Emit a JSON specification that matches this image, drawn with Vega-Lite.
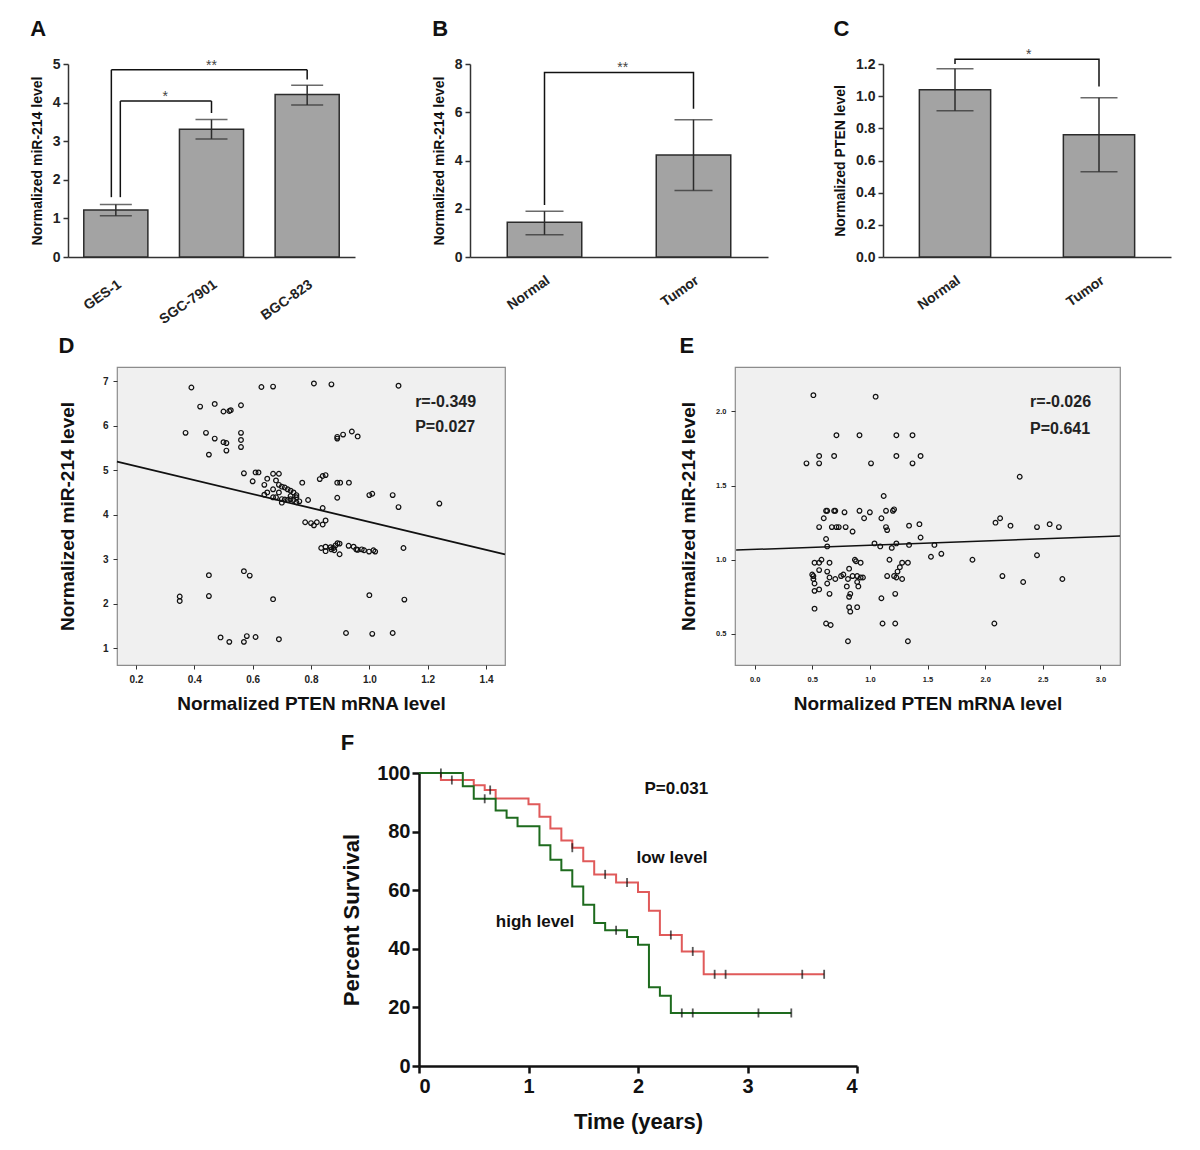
{
"$schema": "https://vega.github.io/schema/vega-lite/v6.json",
"background": "white",
"padding": {"left": 29, "top": 18, "right": 5, "bottom": 5},
"config": {
  "font": "Liberation Sans",
  "view": {"stroke": null},
  "axis": {"grid": false, "labelColor": "#222", "titleColor": "#111", "labelFontWeight": "bold", "titleFontWeight": "bold", "domainColor": "#333", "tickColor": "#333", "labelOverlap": false},
  "title": {"anchor": "start", "frame": "bounds", "fontSize": 22, "fontWeight": "bold", "color": "#111"}
},
"datasets": {
  "barsA": [{"cat": "GES-1", "mean": 1.22, "lo": 1.07, "hi": 1.36}, {"cat": "SGC-7901", "mean": 3.31, "lo": 3.06, "hi": 3.56}, {"cat": "BGC-823", "mean": 4.21, "lo": 3.94, "hi": 4.45}],
  "legsA": [{"cat": "GES-1", "lo": 1.55, "hi": 4.85, "leg": "L2"}, {"cat": "GES-1", "lo": 1.55, "hi": 4.04, "leg": "L1"}, {"cat": "BGC-823", "lo": 4.6, "hi": 4.85, "leg": "R"}, {"cat": "SGC-7901", "lo": 3.73, "hi": 4.04, "leg": "R"}],
  "spansA": [{"from": "GES-1", "to": "BGC-823", "lvl": 4.85, "br": "L2", "star": "**", "mid": "SGC-7901"}, {"from": "GES-1", "to": "SGC-7901", "lvl": 4.04, "br": "L1", "star": "*", "mid": "GES-1"}],
  "barsB": [{"cat": "Normal", "mean": 1.44, "lo": 0.92, "hi": 1.9}, {"cat": "Tumor", "mean": 4.23, "lo": 2.76, "hi": 5.69}],
  "brB": [{"cat": "Normal", "v": 2.16, "k": 1}, {"cat": "Normal", "v": 7.65, "k": 2}, {"cat": "Tumor", "v": 7.65, "k": 3}, {"cat": "Tumor", "v": 6.15, "k": 4}],
  "starB": [{"cat": "Normal", "v": 7.65, "star": "**"}],
  "barsC": [{"cat": "Normal", "mean": 1.04, "lo": 0.91, "hi": 1.17}, {"cat": "Tumor", "mean": 0.76, "lo": 0.53, "hi": 0.99}],
  "brC": [{"cat": "Normal", "v": 1.2, "k": 1}, {"cat": "Normal", "v": 1.23, "k": 2}, {"cat": "Tumor", "v": 1.23, "k": 3}, {"cat": "Tumor", "v": 1.06, "k": 4}],
  "starC": [{"cat": "Normal", "v": 1.23, "star": "*"}],
  "scD": [
    {"pten": 0.39, "mir": 6.86}, {"pten": 0.42, "mir": 6.43}, {"pten": 0.47, "mir": 6.49}, {"pten": 0.5, "mir": 6.32}, {"pten": 0.52, "mir": 6.33}, {"pten": 0.525, "mir": 6.35}, {"pten": 0.56, "mir": 6.46},
    {"pten": 0.37, "mir": 5.84}, {"pten": 0.44, "mir": 5.84}, {"pten": 0.47, "mir": 5.71}, {"pten": 0.5, "mir": 5.63}, {"pten": 0.51, "mir": 5.61}, {"pten": 0.51, "mir": 5.44}, {"pten": 0.45, "mir": 5.35},
    {"pten": 0.56, "mir": 5.84}, {"pten": 0.56, "mir": 5.68}, {"pten": 0.56, "mir": 5.52}, {"pten": 0.63, "mir": 6.87}, {"pten": 0.67, "mir": 6.88},
    {"pten": 0.57, "mir": 4.93}, {"pten": 0.61, "mir": 4.95}, {"pten": 0.62, "mir": 4.95}, {"pten": 0.6, "mir": 4.75},
    {"pten": 0.67, "mir": 4.92}, {"pten": 0.69, "mir": 4.92}, {"pten": 0.65, "mir": 4.81}, {"pten": 0.68, "mir": 4.77}, {"pten": 0.64, "mir": 4.67}, {"pten": 0.69, "mir": 4.67},
    {"pten": 0.7, "mir": 4.63}, {"pten": 0.71, "mir": 4.61}, {"pten": 0.72, "mir": 4.57}, {"pten": 0.73, "mir": 4.54}, {"pten": 0.74, "mir": 4.5}, {"pten": 0.75, "mir": 4.44}, {"pten": 0.75, "mir": 4.39}, {"pten": 0.76, "mir": 4.3},
    {"pten": 0.67, "mir": 4.57}, {"pten": 0.65, "mir": 4.5}, {"pten": 0.64, "mir": 4.45}, {"pten": 0.69, "mir": 4.5}, {"pten": 0.67, "mir": 4.39}, {"pten": 0.68, "mir": 4.39},
    {"pten": 0.7, "mir": 4.35}, {"pten": 0.71, "mir": 4.34}, {"pten": 0.73, "mir": 4.35}, {"pten": 0.74, "mir": 4.33}, {"pten": 0.75, "mir": 4.28}, {"pten": 0.7, "mir": 4.27}, {"pten": 0.72, "mir": 4.33}, {"pten": 0.73, "mir": 4.42},
    {"pten": 0.77, "mir": 4.72}, {"pten": 0.79, "mir": 4.33}, {"pten": 0.84, "mir": 4.15}, {"pten": 0.83, "mir": 4.8}, {"pten": 0.84, "mir": 4.87}, {"pten": 0.85, "mir": 4.89},
    {"pten": 0.89, "mir": 4.72}, {"pten": 0.9, "mir": 4.72}, {"pten": 0.93, "mir": 4.72}, {"pten": 0.89, "mir": 4.38},
    {"pten": 0.89, "mir": 5.71}, {"pten": 0.89, "mir": 5.75}, {"pten": 0.91, "mir": 5.8}, {"pten": 0.94, "mir": 5.87}, {"pten": 0.96, "mir": 5.76},
    {"pten": 1.0, "mir": 4.44}, {"pten": 1.01, "mir": 4.47}, {"pten": 1.08, "mir": 4.44}, {"pten": 1.1, "mir": 4.17}, {"pten": 1.24, "mir": 4.25},
    {"pten": 0.78, "mir": 3.83}, {"pten": 0.8, "mir": 3.81}, {"pten": 0.81, "mir": 3.76}, {"pten": 0.82, "mir": 3.83}, {"pten": 0.84, "mir": 3.78}, {"pten": 0.85, "mir": 3.87},
    {"pten": 0.835, "mir": 3.25}, {"pten": 0.85, "mir": 3.28}, {"pten": 0.85, "mir": 3.18}, {"pten": 0.867, "mir": 3.27}, {"pten": 0.877, "mir": 3.25}, {"pten": 0.884, "mir": 3.31},
    {"pten": 0.891, "mir": 3.36}, {"pten": 0.898, "mir": 3.35}, {"pten": 0.898, "mir": 3.11}, {"pten": 0.929, "mir": 3.3}, {"pten": 0.946, "mir": 3.28}, {"pten": 0.955, "mir": 3.22},
    {"pten": 0.974, "mir": 3.22}, {"pten": 0.982, "mir": 3.2}, {"pten": 0.999, "mir": 3.17}, {"pten": 1.014, "mir": 3.2}, {"pten": 1.02, "mir": 3.17}, {"pten": 1.117, "mir": 3.25},
    {"pten": 0.87, "mir": 3.22}, {"pten": 0.88, "mir": 3.2}, {"pten": 0.96, "mir": 3.21},
    {"pten": 0.45, "mir": 2.64}, {"pten": 0.45, "mir": 2.17}, {"pten": 0.35, "mir": 2.16}, {"pten": 0.35, "mir": 2.06}, {"pten": 0.57, "mir": 2.73}, {"pten": 0.59, "mir": 2.63},
    {"pten": 0.67, "mir": 2.1}, {"pten": 1.0, "mir": 2.19}, {"pten": 1.12, "mir": 2.09},
    {"pten": 0.49, "mir": 1.24}, {"pten": 0.52, "mir": 1.14}, {"pten": 0.57, "mir": 1.14}, {"pten": 0.58, "mir": 1.27}, {"pten": 0.61, "mir": 1.25}, {"pten": 0.69, "mir": 1.2},
    {"pten": 0.92, "mir": 1.34}, {"pten": 1.01, "mir": 1.32}, {"pten": 1.08, "mir": 1.34},
    {"pten": 0.81, "mir": 6.95}, {"pten": 0.87, "mir": 6.93}, {"pten": 1.1, "mir": 6.9}
  ],
  "lnD": [{"pten": 0.135, "mir": 5.19}, {"pten": 1.465, "mir": 3.11}],
  "txD": [{"pten": 1.157, "mir": 6.54, "label": "r=-0.349"}, {"pten": 1.157, "mir": 5.96, "label": "P=0.027"}],
  "scE": [
    {"pten": 0.51, "mir": 2.11}, {"pten": 1.05, "mir": 2.1},
    {"pten": 0.71, "mir": 1.84}, {"pten": 0.91, "mir": 1.84}, {"pten": 1.23, "mir": 1.84}, {"pten": 1.37, "mir": 1.84},
    {"pten": 0.56, "mir": 1.7}, {"pten": 0.69, "mir": 1.7}, {"pten": 1.23, "mir": 1.7}, {"pten": 1.44, "mir": 1.7},
    {"pten": 0.45, "mir": 1.65}, {"pten": 0.56, "mir": 1.65}, {"pten": 1.01, "mir": 1.65}, {"pten": 1.37, "mir": 1.65},
    {"pten": 2.3, "mir": 1.56}, {"pten": 1.12, "mir": 1.43},
    {"pten": 0.62, "mir": 1.33}, {"pten": 0.63, "mir": 1.33}, {"pten": 0.69, "mir": 1.33}, {"pten": 0.7, "mir": 1.33}, {"pten": 0.78, "mir": 1.32}, {"pten": 0.91, "mir": 1.33},
    {"pten": 1.0, "mir": 1.32}, {"pten": 1.14, "mir": 1.33}, {"pten": 1.2, "mir": 1.33}, {"pten": 1.21, "mir": 1.34},
    {"pten": 0.6, "mir": 1.28}, {"pten": 0.95, "mir": 1.28}, {"pten": 1.1, "mir": 1.28},
    {"pten": 0.56, "mir": 1.22}, {"pten": 0.67, "mir": 1.22}, {"pten": 0.71, "mir": 1.22}, {"pten": 0.73, "mir": 1.22}, {"pten": 0.79, "mir": 1.22},
    {"pten": 1.14, "mir": 1.22}, {"pten": 1.15, "mir": 1.2}, {"pten": 0.85, "mir": 1.19}, {"pten": 1.34, "mir": 1.23}, {"pten": 1.43, "mir": 1.24}, {"pten": 1.44, "mir": 1.15},
    {"pten": 0.62, "mir": 1.14}, {"pten": 0.63, "mir": 1.09}, {"pten": 1.04, "mir": 1.11}, {"pten": 1.09, "mir": 1.09}, {"pten": 1.19, "mir": 1.08}, {"pten": 1.23, "mir": 1.11},
    {"pten": 1.34, "mir": 1.1}, {"pten": 1.56, "mir": 1.1},
    {"pten": 2.09, "mir": 1.25}, {"pten": 2.13, "mir": 1.28}, {"pten": 2.22, "mir": 1.23}, {"pten": 2.45, "mir": 1.22}, {"pten": 2.56, "mir": 1.24}, {"pten": 2.64, "mir": 1.22},
    {"pten": 1.53, "mir": 1.02}, {"pten": 1.62, "mir": 1.04}, {"pten": 1.89, "mir": 1.0}, {"pten": 2.45, "mir": 1.03},
    {"pten": 0.52, "mir": 0.98}, {"pten": 0.56, "mir": 0.98}, {"pten": 0.58, "mir": 1.0}, {"pten": 0.65, "mir": 0.98},
    {"pten": 0.5, "mir": 0.9}, {"pten": 0.51, "mir": 0.89}, {"pten": 0.51, "mir": 0.87}, {"pten": 0.52, "mir": 0.84}, {"pten": 0.52, "mir": 0.79}, {"pten": 0.56, "mir": 0.8},
    {"pten": 0.56, "mir": 0.93}, {"pten": 0.63, "mir": 0.92}, {"pten": 0.65, "mir": 0.88}, {"pten": 0.63, "mir": 0.84}, {"pten": 0.65, "mir": 0.77}, {"pten": 0.52, "mir": 0.67},
    {"pten": 0.62, "mir": 0.57}, {"pten": 0.66, "mir": 0.56},
    {"pten": 0.7, "mir": 0.87}, {"pten": 0.75, "mir": 0.89}, {"pten": 0.77, "mir": 0.9}, {"pten": 0.81, "mir": 0.87}, {"pten": 0.82, "mir": 0.94}, {"pten": 0.8, "mir": 0.82},
    {"pten": 0.82, "mir": 0.75}, {"pten": 0.83, "mir": 0.77}, {"pten": 0.82, "mir": 0.68}, {"pten": 0.83, "mir": 0.65}, {"pten": 0.89, "mir": 0.68},
    {"pten": 0.87, "mir": 1.0}, {"pten": 0.88, "mir": 0.99}, {"pten": 0.92, "mir": 0.98}, {"pten": 0.85, "mir": 0.89}, {"pten": 0.89, "mir": 0.89}, {"pten": 0.92, "mir": 0.88},
    {"pten": 0.94, "mir": 0.88}, {"pten": 0.89, "mir": 0.85}, {"pten": 0.9, "mir": 0.82}, {"pten": 0.81, "mir": 0.45},
    {"pten": 1.17, "mir": 1.0}, {"pten": 1.15, "mir": 0.89}, {"pten": 1.21, "mir": 0.89}, {"pten": 1.23, "mir": 0.88}, {"pten": 1.24, "mir": 0.92}, {"pten": 1.26, "mir": 0.95},
    {"pten": 1.28, "mir": 0.98}, {"pten": 1.33, "mir": 0.98}, {"pten": 1.28, "mir": 0.87}, {"pten": 1.22, "mir": 0.77}, {"pten": 1.1, "mir": 0.74}, {"pten": 1.11, "mir": 0.57},
    {"pten": 1.22, "mir": 0.57}, {"pten": 1.33, "mir": 0.45},
    {"pten": 2.15, "mir": 0.89}, {"pten": 2.33, "mir": 0.85}, {"pten": 2.67, "mir": 0.87}, {"pten": 2.08, "mir": 0.57}
  ],
  "lnE": [{"pten": -0.16, "mir": 1.065}, {"pten": 3.17, "mir": 1.16}],
  "txE": [{"pten": 2.39, "mir": 2.064, "label": "r=-0.026"}, {"pten": 2.39, "mir": 1.883, "label": "P=0.641"}],
  "km": [
    {"group": "low level", "time": 0, "surv": 100}, {"group": "low level", "time": 0.2, "surv": 97.6}, {"group": "low level", "time": 0.5, "surv": 95.8},
    {"group": "low level", "time": 0.6, "surv": 94.2}, {"group": "low level", "time": 0.7, "surv": 91.3}, {"group": "low level", "time": 1.0, "surv": 89.3},
    {"group": "low level", "time": 1.1, "surv": 85.1}, {"group": "low level", "time": 1.2, "surv": 81.1}, {"group": "low level", "time": 1.3, "surv": 77.0},
    {"group": "low level", "time": 1.4, "surv": 74.5}, {"group": "low level", "time": 1.5, "surv": 69.9}, {"group": "low level", "time": 1.6, "surv": 65.4},
    {"group": "low level", "time": 1.8, "surv": 62.6}, {"group": "low level", "time": 2.0, "surv": 59.4}, {"group": "low level", "time": 2.1, "surv": 53.0},
    {"group": "low level", "time": 2.2, "surv": 44.7}, {"group": "low level", "time": 2.4, "surv": 39.1}, {"group": "low level", "time": 2.6, "surv": 31.3},
    {"group": "low level", "time": 3.7, "surv": 31.3},
    {"group": "high level", "time": 0, "surv": 100}, {"group": "high level", "time": 0.4, "surv": 95.5}, {"group": "high level", "time": 0.5, "surv": 91.2},
    {"group": "high level", "time": 0.7, "surv": 87.2}, {"group": "high level", "time": 0.8, "surv": 84.7}, {"group": "high level", "time": 0.9, "surv": 81.8},
    {"group": "high level", "time": 1.1, "surv": 75.3}, {"group": "high level", "time": 1.2, "surv": 70.4}, {"group": "high level", "time": 1.3, "surv": 66.8},
    {"group": "high level", "time": 1.4, "surv": 61.3}, {"group": "high level", "time": 1.5, "surv": 55.0}, {"group": "high level", "time": 1.6, "surv": 48.8},
    {"group": "high level", "time": 1.7, "surv": 46.3}, {"group": "high level", "time": 1.9, "surv": 44.0}, {"group": "high level", "time": 2.0, "surv": 41.4},
    {"group": "high level", "time": 2.1, "surv": 26.9}, {"group": "high level", "time": 2.2, "surv": 24.0}, {"group": "high level", "time": 2.3, "surv": 18.1},
    {"group": "high level", "time": 3.4, "surv": 18.1}
  ],
  "cens": [
    {"group": "low level", "time": 0.3, "surv": 97.6}, {"group": "low level", "time": 0.65, "surv": 94.2}, {"group": "low level", "time": 1.4, "surv": 74.5},
    {"group": "low level", "time": 1.7, "surv": 65.4}, {"group": "low level", "time": 1.9, "surv": 62.6}, {"group": "low level", "time": 2.3, "surv": 44.7},
    {"group": "low level", "time": 2.5, "surv": 39.1}, {"group": "low level", "time": 2.7, "surv": 31.3}, {"group": "low level", "time": 2.8, "surv": 31.3},
    {"group": "low level", "time": 3.5, "surv": 31.3}, {"group": "low level", "time": 3.7, "surv": 31.3},
    {"group": "high level", "time": 0.2, "surv": 100}, {"group": "high level", "time": 0.6, "surv": 91.2}, {"group": "high level", "time": 1.8, "surv": 46.3},
    {"group": "high level", "time": 2.4, "surv": 18.1}, {"group": "high level", "time": 2.5, "surv": 18.1}, {"group": "high level", "time": 3.1, "surv": 18.1},
    {"group": "high level", "time": 3.4, "surv": 18.1}
  ],
  "txF": [{"time": 2.35, "surv": 94.4, "label": "P=0.031"}, {"time": 2.31, "surv": 71.1, "label": "low level"}, {"time": 1.06, "surv": 49.2, "label": "high level"}],
  "empty": []
},
"spacing": 7,
"vconcat": [
  {
    "hconcat": [
      {"width": 1, "height": 5, "data": {"name": "empty"}, "mark": "point"},
      {
        "hconcat": [
          {
            "title": {"text": "A", "offset": 16},
            "width": 287, "height": 193,
            "layer": [
              {"data": {"name": "barsA"}, "mark": {"type": "bar", "fill": "#a3a3a3", "stroke": "#2b2b2b", "strokeWidth": 1.5},
               "encoding": {
                 "x": {"field": "cat", "type": "nominal", "title": null, "scale": {"domain": ["GES-1", "SGC-7901", "BGC-823"], "paddingInner": 0.33, "paddingOuter": 0.165}, "axis": {"labelAngle": -35, "labelAlign": "right", "labelBaseline": "top", "labelFontSize": 14, "labelPadding": 20, "ticks": false, "domainWidth": 1.5}},
                 "y": {"field": "mean", "type": "quantitative", "title": "Normalized miR-214 level", "scale": {"domain": [0, 5]}, "axis": {"values": [0, 1, 2, 3, 4, 5], "format": "d", "tickSize": 5, "tickWidth": 1.5, "domainWidth": 1.5, "labelFontSize": 14, "titleFontSize": 14, "titlePadding": 8, "labelPadding": 3, "labelOverlap": false}}
               }},
              {"data": {"name": "barsA"}, "mark": {"type": "rule", "color": "#2b2b2b", "strokeWidth": 1.5},
               "encoding": {"x": {"field": "cat", "type": "nominal", "title": null, "scale": {"domain": ["GES-1", "SGC-7901", "BGC-823"]}, "axis": {"labelAngle": -35, "labelAlign": "right", "labelBaseline": "top", "labelFontSize": 14, "labelPadding": 20, "ticks": false, "domainWidth": 1.5}}, "y": {"field": "lo", "type": "quantitative", "title": "Normalized miR-214 level", "scale": {"domain": [0, 5]}, "axis": {"values": [0, 1, 2, 3, 4, 5], "format": "d", "tickSize": 5, "tickWidth": 1.5, "domainWidth": 1.5, "labelFontSize": 14, "titleFontSize": 14, "titlePadding": 8, "labelPadding": 3, "labelOverlap": false}}, "y2": {"field": "hi"}}},
              {"data": {"name": "barsA"}, "mark": {"type": "tick", "orient": "horizontal", "size": 32, "thickness": 1.5, "color": "#2b2b2b"},
               "encoding": {"x": {"field": "cat", "type": "nominal", "title": null, "scale": {"domain": ["GES-1", "SGC-7901", "BGC-823"]}, "axis": {"labelAngle": -35, "labelAlign": "right", "labelBaseline": "top", "labelFontSize": 14, "labelPadding": 20, "ticks": false, "domainWidth": 1.5}}, "y": {"field": "lo", "type": "quantitative", "title": "Normalized miR-214 level", "scale": {"domain": [0, 5]}, "axis": {"values": [0, 1, 2, 3, 4, 5], "format": "d", "tickSize": 5, "tickWidth": 1.5, "domainWidth": 1.5, "labelFontSize": 14, "titleFontSize": 14, "titlePadding": 8, "labelPadding": 3, "labelOverlap": false}}}},
              {"data": {"name": "barsA"}, "mark": {"type": "tick", "orient": "horizontal", "size": 32, "thickness": 1.5, "color": "#2b2b2b"},
               "encoding": {"x": {"field": "cat", "type": "nominal", "title": null, "scale": {"domain": ["GES-1", "SGC-7901", "BGC-823"]}, "axis": {"labelAngle": -35, "labelAlign": "right", "labelBaseline": "top", "labelFontSize": 14, "labelPadding": 20, "ticks": false, "domainWidth": 1.5}}, "y": {"field": "hi", "type": "quantitative", "title": "Normalized miR-214 level", "scale": {"domain": [0, 5]}, "axis": {"values": [0, 1, 2, 3, 4, 5], "format": "d", "tickSize": 5, "tickWidth": 1.5, "domainWidth": 1.5, "labelFontSize": 14, "titleFontSize": 14, "titlePadding": 8, "labelPadding": 3, "labelOverlap": false}}}},
              {"data": {"name": "legsA"}, "transform": [{"filter": "datum.leg == 'L2'"}], "mark": {"type": "rule", "color": "#111", "strokeWidth": 1.5},
               "encoding": {"x": {"field": "cat", "type": "nominal", "title": null, "bandPosition": 0.43, "scale": {"domain": ["GES-1", "SGC-7901", "BGC-823"]}, "axis": {"labelAngle": -35, "labelAlign": "right", "labelBaseline": "top", "labelFontSize": 14, "labelPadding": 20, "ticks": false, "domainWidth": 1.5}}, "y": {"field": "lo", "type": "quantitative", "title": "Normalized miR-214 level", "scale": {"domain": [0, 5]}, "axis": {"values": [0, 1, 2, 3, 4, 5], "format": "d", "tickSize": 5, "tickWidth": 1.5, "domainWidth": 1.5, "labelFontSize": 14, "titleFontSize": 14, "titlePadding": 8, "labelPadding": 3, "labelOverlap": false}}, "y2": {"field": "hi"}}},
              {"data": {"name": "legsA"}, "transform": [{"filter": "datum.leg == 'L1'"}], "mark": {"type": "rule", "color": "#111", "strokeWidth": 1.5},
               "encoding": {"x": {"field": "cat", "type": "nominal", "title": null, "bandPosition": 0.57, "scale": {"domain": ["GES-1", "SGC-7901", "BGC-823"]}, "axis": {"labelAngle": -35, "labelAlign": "right", "labelBaseline": "top", "labelFontSize": 14, "labelPadding": 20, "ticks": false, "domainWidth": 1.5}}, "y": {"field": "lo", "type": "quantitative", "title": "Normalized miR-214 level", "scale": {"domain": [0, 5]}, "axis": {"values": [0, 1, 2, 3, 4, 5], "format": "d", "tickSize": 5, "tickWidth": 1.5, "domainWidth": 1.5, "labelFontSize": 14, "titleFontSize": 14, "titlePadding": 8, "labelPadding": 3, "labelOverlap": false}}, "y2": {"field": "hi"}}},
              {"data": {"name": "legsA"}, "transform": [{"filter": "datum.leg == 'R'"}], "mark": {"type": "rule", "color": "#111", "strokeWidth": 1.5},
               "encoding": {"x": {"field": "cat", "type": "nominal", "title": null, "bandPosition": 0.5, "scale": {"domain": ["GES-1", "SGC-7901", "BGC-823"]}, "axis": {"labelAngle": -35, "labelAlign": "right", "labelBaseline": "top", "labelFontSize": 14, "labelPadding": 20, "ticks": false, "domainWidth": 1.5}}, "y": {"field": "lo", "type": "quantitative", "title": "Normalized miR-214 level", "scale": {"domain": [0, 5]}, "axis": {"values": [0, 1, 2, 3, 4, 5], "format": "d", "tickSize": 5, "tickWidth": 1.5, "domainWidth": 1.5, "labelFontSize": 14, "titleFontSize": 14, "titlePadding": 8, "labelPadding": 3, "labelOverlap": false}}, "y2": {"field": "hi"}}},
              {"data": {"name": "spansA"}, "transform": [{"filter": "datum.br == 'L2'"}], "mark": {"type": "rule", "color": "#111", "strokeWidth": 1.5},
               "encoding": {"x": {"field": "from", "type": "nominal", "title": null, "bandPosition": 0.43, "scale": {"domain": ["GES-1", "SGC-7901", "BGC-823"]}, "axis": {"labelAngle": -35, "labelAlign": "right", "labelBaseline": "top", "labelFontSize": 14, "labelPadding": 20, "ticks": false, "domainWidth": 1.5}}, "x2": {"field": "to", "bandPosition": 0.5}, "y": {"field": "lvl", "type": "quantitative", "title": "Normalized miR-214 level", "scale": {"domain": [0, 5]}, "axis": {"values": [0, 1, 2, 3, 4, 5], "format": "d", "tickSize": 5, "tickWidth": 1.5, "domainWidth": 1.5, "labelFontSize": 14, "titleFontSize": 14, "titlePadding": 8, "labelPadding": 3, "labelOverlap": false}}}},
              {"data": {"name": "spansA"}, "transform": [{"filter": "datum.br == 'L1'"}], "mark": {"type": "rule", "color": "#111", "strokeWidth": 1.5},
               "encoding": {"x": {"field": "from", "type": "nominal", "title": null, "bandPosition": 0.57, "scale": {"domain": ["GES-1", "SGC-7901", "BGC-823"]}, "axis": {"labelAngle": -35, "labelAlign": "right", "labelBaseline": "top", "labelFontSize": 14, "labelPadding": 20, "ticks": false, "domainWidth": 1.5}}, "x2": {"field": "to", "bandPosition": 0.5}, "y": {"field": "lvl", "type": "quantitative", "title": "Normalized miR-214 level", "scale": {"domain": [0, 5]}, "axis": {"values": [0, 1, 2, 3, 4, 5], "format": "d", "tickSize": 5, "tickWidth": 1.5, "domainWidth": 1.5, "labelFontSize": 14, "titleFontSize": 14, "titlePadding": 8, "labelPadding": 3, "labelOverlap": false}}}},
              {"data": {"name": "spansA"}, "transform": [{"filter": "datum.br == 'L2'"}], "mark": {"type": "text", "fontSize": 14, "color": "#444", "baseline": "alphabetic", "align": "center"},
               "encoding": {"x": {"field": "mid", "type": "nominal", "title": null, "bandPosition": 0.5, "scale": {"domain": ["GES-1", "SGC-7901", "BGC-823"]}, "axis": {"labelAngle": -35, "labelAlign": "right", "labelBaseline": "top", "labelFontSize": 14, "labelPadding": 20, "ticks": false, "domainWidth": 1.5}}, "y": {"field": "lvl", "type": "quantitative", "title": "Normalized miR-214 level", "scale": {"domain": [0, 5]}, "axis": {"values": [0, 1, 2, 3, 4, 5], "format": "d", "tickSize": 5, "tickWidth": 1.5, "domainWidth": 1.5, "labelFontSize": 14, "titleFontSize": 14, "titlePadding": 8, "labelPadding": 3, "labelOverlap": false}}, "text": {"field": "star"}}},
              {"data": {"name": "spansA"}, "transform": [{"filter": "datum.br == 'L1'"}], "mark": {"type": "text", "fontSize": 14, "color": "#444", "baseline": "alphabetic", "align": "center"},
               "encoding": {"x": {"field": "mid", "type": "nominal", "title": null, "bandPosition": 1.27, "scale": {"domain": ["GES-1", "SGC-7901", "BGC-823"]}, "axis": {"labelAngle": -35, "labelAlign": "right", "labelBaseline": "top", "labelFontSize": 14, "labelPadding": 20, "ticks": false, "domainWidth": 1.5}}, "y": {"field": "lvl", "type": "quantitative", "title": "Normalized miR-214 level", "scale": {"domain": [0, 5]}, "axis": {"values": [0, 1, 2, 3, 4, 5], "format": "d", "tickSize": 5, "tickWidth": 1.5, "domainWidth": 1.5, "labelFontSize": 14, "titleFontSize": 14, "titlePadding": 8, "labelPadding": 3, "labelOverlap": false}}, "text": {"field": "star"}}}
            ]
          },
          {
            "title": {"text": "B", "offset": 16},
            "width": 298, "height": 193,
            "layer": [
              {"data": {"name": "barsB"}, "mark": {"type": "bar", "fill": "#a3a3a3", "stroke": "#2b2b2b", "strokeWidth": 1.5},
               "encoding": {
                 "x": {"field": "cat", "type": "nominal", "title": null, "scale": {"domain": ["Normal", "Tumor"], "paddingInner": 0.5, "paddingOuter": 0.25}, "axis": {"labelAngle": -35, "labelAlign": "right", "labelBaseline": "top", "labelFontSize": 14, "labelPadding": 16, "ticks": false, "domainWidth": 1.5}},
                 "y": {"field": "mean", "type": "quantitative", "title": "Normalized miR-214 level", "scale": {"domain": [0, 8]}, "axis": {"values": [0, 2, 4, 6, 8], "format": "d", "tickSize": 5, "tickWidth": 1.5, "domainWidth": 1.5, "labelFontSize": 14, "titleFontSize": 14, "titlePadding": 8, "labelPadding": 3, "labelOverlap": false}}
               }},
              {"data": {"name": "barsB"}, "mark": {"type": "rule", "color": "#2b2b2b", "strokeWidth": 1.5},
               "encoding": {"x": {"field": "cat", "type": "nominal", "title": null, "scale": {"domain": ["Normal", "Tumor"]}, "axis": {"labelAngle": -35, "labelAlign": "right", "labelBaseline": "top", "labelFontSize": 14, "labelPadding": 16, "ticks": false, "domainWidth": 1.5}}, "y": {"field": "lo", "type": "quantitative", "title": "Normalized miR-214 level", "scale": {"domain": [0, 8]}, "axis": {"values": [0, 2, 4, 6, 8], "format": "d", "tickSize": 5, "tickWidth": 1.5, "domainWidth": 1.5, "labelFontSize": 14, "titleFontSize": 14, "titlePadding": 8, "labelPadding": 3, "labelOverlap": false}}, "y2": {"field": "hi"}}},
              {"data": {"name": "barsB"}, "mark": {"type": "tick", "orient": "horizontal", "size": 38, "thickness": 1.5, "color": "#2b2b2b"},
               "encoding": {"x": {"field": "cat", "type": "nominal", "title": null, "scale": {"domain": ["Normal", "Tumor"]}, "axis": {"labelAngle": -35, "labelAlign": "right", "labelBaseline": "top", "labelFontSize": 14, "labelPadding": 16, "ticks": false, "domainWidth": 1.5}}, "y": {"field": "lo", "type": "quantitative", "title": "Normalized miR-214 level", "scale": {"domain": [0, 8]}, "axis": {"values": [0, 2, 4, 6, 8], "format": "d", "tickSize": 5, "tickWidth": 1.5, "domainWidth": 1.5, "labelFontSize": 14, "titleFontSize": 14, "titlePadding": 8, "labelPadding": 3, "labelOverlap": false}}}},
              {"data": {"name": "barsB"}, "mark": {"type": "tick", "orient": "horizontal", "size": 38, "thickness": 1.5, "color": "#2b2b2b"},
               "encoding": {"x": {"field": "cat", "type": "nominal", "title": null, "scale": {"domain": ["Normal", "Tumor"]}, "axis": {"labelAngle": -35, "labelAlign": "right", "labelBaseline": "top", "labelFontSize": 14, "labelPadding": 16, "ticks": false, "domainWidth": 1.5}}, "y": {"field": "hi", "type": "quantitative", "title": "Normalized miR-214 level", "scale": {"domain": [0, 8]}, "axis": {"values": [0, 2, 4, 6, 8], "format": "d", "tickSize": 5, "tickWidth": 1.5, "domainWidth": 1.5, "labelFontSize": 14, "titleFontSize": 14, "titlePadding": 8, "labelPadding": 3, "labelOverlap": false}}}},
              {"data": {"name": "brB"}, "mark": {"type": "line", "color": "#111", "strokeWidth": 1.5},
               "encoding": {"x": {"field": "cat", "type": "nominal", "title": null, "scale": {"domain": ["Normal", "Tumor"]}, "axis": {"labelAngle": -35, "labelAlign": "right", "labelBaseline": "top", "labelFontSize": 14, "labelPadding": 16, "ticks": false, "domainWidth": 1.5}}, "y": {"field": "v", "type": "quantitative", "title": "Normalized miR-214 level", "scale": {"domain": [0, 8]}, "axis": {"values": [0, 2, 4, 6, 8], "format": "d", "tickSize": 5, "tickWidth": 1.5, "domainWidth": 1.5, "labelFontSize": 14, "titleFontSize": 14, "titlePadding": 8, "labelPadding": 3, "labelOverlap": false}}, "order": {"field": "k"}}},
              {"data": {"name": "starB"}, "mark": {"type": "text", "fontSize": 14, "color": "#444", "baseline": "alphabetic", "align": "center"},
               "encoding": {"x": {"field": "cat", "type": "nominal", "title": null, "bandPosition": 1.55, "scale": {"domain": ["Normal", "Tumor"]}, "axis": {"labelAngle": -35, "labelAlign": "right", "labelBaseline": "top", "labelFontSize": 14, "labelPadding": 16, "ticks": false, "domainWidth": 1.5}}, "y": {"field": "v", "type": "quantitative", "title": "Normalized miR-214 level", "scale": {"domain": [0, 8]}, "axis": {"values": [0, 2, 4, 6, 8], "format": "d", "tickSize": 5, "tickWidth": 1.5, "domainWidth": 1.5, "labelFontSize": 14, "titleFontSize": 14, "titlePadding": 8, "labelPadding": 3, "labelOverlap": false}}, "text": {"field": "star"}}}
            ]
          },
          {
            "title": {"text": "C", "offset": 7},
            "width": 288, "height": 193,
            "layer": [
              {"data": {"name": "barsC"}, "mark": {"type": "bar", "fill": "#a3a3a3", "stroke": "#2b2b2b", "strokeWidth": 1.5},
               "encoding": {
                 "x": {"field": "cat", "type": "nominal", "title": null, "scale": {"domain": ["Normal", "Tumor"], "paddingInner": 0.505, "paddingOuter": 0.2525}, "axis": {"labelAngle": -35, "labelAlign": "right", "labelBaseline": "top", "labelFontSize": 14, "labelPadding": 16, "ticks": false, "domainWidth": 1.5}},
                 "y": {"field": "mean", "type": "quantitative", "title": "Normalized PTEN level", "scale": {"domain": [0, 1.2]}, "axis": {"values": [0, 0.2, 0.4, 0.6, 0.8, 1.0, 1.2], "format": ".1f", "tickSize": 5, "tickWidth": 1.5, "domainWidth": 1.5, "labelFontSize": 14, "titleFontSize": 14, "titlePadding": 8, "labelPadding": 3, "labelOverlap": false}}
               }},
              {"data": {"name": "barsC"}, "mark": {"type": "rule", "color": "#2b2b2b", "strokeWidth": 1.5},
               "encoding": {"x": {"field": "cat", "type": "nominal", "title": null, "scale": {"domain": ["Normal", "Tumor"]}, "axis": {"labelAngle": -35, "labelAlign": "right", "labelBaseline": "top", "labelFontSize": 14, "labelPadding": 16, "ticks": false, "domainWidth": 1.5}}, "y": {"field": "lo", "type": "quantitative", "title": "Normalized PTEN level", "scale": {"domain": [0, 1.2]}, "axis": {"values": [0, 0.2, 0.4, 0.6, 0.8, 1.0, 1.2], "format": ".1f", "tickSize": 5, "tickWidth": 1.5, "domainWidth": 1.5, "labelFontSize": 14, "titleFontSize": 14, "titlePadding": 8, "labelPadding": 3, "labelOverlap": false}}, "y2": {"field": "hi"}}},
              {"data": {"name": "barsC"}, "mark": {"type": "tick", "orient": "horizontal", "size": 37, "thickness": 1.5, "color": "#2b2b2b"},
               "encoding": {"x": {"field": "cat", "type": "nominal", "title": null, "scale": {"domain": ["Normal", "Tumor"]}, "axis": {"labelAngle": -35, "labelAlign": "right", "labelBaseline": "top", "labelFontSize": 14, "labelPadding": 16, "ticks": false, "domainWidth": 1.5}}, "y": {"field": "lo", "type": "quantitative", "title": "Normalized PTEN level", "scale": {"domain": [0, 1.2]}, "axis": {"values": [0, 0.2, 0.4, 0.6, 0.8, 1.0, 1.2], "format": ".1f", "tickSize": 5, "tickWidth": 1.5, "domainWidth": 1.5, "labelFontSize": 14, "titleFontSize": 14, "titlePadding": 8, "labelPadding": 3, "labelOverlap": false}}}},
              {"data": {"name": "barsC"}, "mark": {"type": "tick", "orient": "horizontal", "size": 37, "thickness": 1.5, "color": "#2b2b2b"},
               "encoding": {"x": {"field": "cat", "type": "nominal", "title": null, "scale": {"domain": ["Normal", "Tumor"]}, "axis": {"labelAngle": -35, "labelAlign": "right", "labelBaseline": "top", "labelFontSize": 14, "labelPadding": 16, "ticks": false, "domainWidth": 1.5}}, "y": {"field": "hi", "type": "quantitative", "title": "Normalized PTEN level", "scale": {"domain": [0, 1.2]}, "axis": {"values": [0, 0.2, 0.4, 0.6, 0.8, 1.0, 1.2], "format": ".1f", "tickSize": 5, "tickWidth": 1.5, "domainWidth": 1.5, "labelFontSize": 14, "titleFontSize": 14, "titlePadding": 8, "labelPadding": 3, "labelOverlap": false}}}},
              {"data": {"name": "brC"}, "mark": {"type": "line", "color": "#111", "strokeWidth": 1.5},
               "encoding": {"x": {"field": "cat", "type": "nominal", "title": null, "scale": {"domain": ["Normal", "Tumor"]}, "axis": {"labelAngle": -35, "labelAlign": "right", "labelBaseline": "top", "labelFontSize": 14, "labelPadding": 16, "ticks": false, "domainWidth": 1.5}}, "y": {"field": "v", "type": "quantitative", "title": "Normalized PTEN level", "scale": {"domain": [0, 1.2]}, "axis": {"values": [0, 0.2, 0.4, 0.6, 0.8, 1.0, 1.2], "format": ".1f", "tickSize": 5, "tickWidth": 1.5, "domainWidth": 1.5, "labelFontSize": 14, "titleFontSize": 14, "titlePadding": 8, "labelPadding": 3, "labelOverlap": false}}, "order": {"field": "k"}}},
              {"data": {"name": "starC"}, "mark": {"type": "text", "fontSize": 14, "color": "#444", "baseline": "alphabetic", "align": "center"},
               "encoding": {"x": {"field": "cat", "type": "nominal", "title": null, "bandPosition": 1.535, "scale": {"domain": ["Normal", "Tumor"]}, "axis": {"labelAngle": -35, "labelAlign": "right", "labelBaseline": "top", "labelFontSize": 14, "labelPadding": 16, "ticks": false, "domainWidth": 1.5}}, "y": {"field": "v", "type": "quantitative", "title": "Normalized PTEN level", "scale": {"domain": [0, 1.2]}, "axis": {"values": [0, 0.2, 0.4, 0.6, 0.8, 1.0, 1.2], "format": ".1f", "tickSize": 5, "tickWidth": 1.5, "domainWidth": 1.5, "labelFontSize": 14, "titleFontSize": 14, "titlePadding": 8, "labelPadding": 3, "labelOverlap": false}}, "text": {"field": "star"}}}
            ]
          }
        ],
        "spacing": 115,
        "bounds": "flush"
      }
    ],
    "spacing": 0
  },
  {
    "spacing": 17,
    "vconcat": [
      {
        "hconcat": [
          {"width": 28, "height": 5, "data": {"name": "empty"}, "mark": "point"},
          {
            "hconcat": [
              {
                "title": {"text": "D", "offset": 9},
                "width": 388, "height": 298,
                "view": {"fill": "#f0f0f0", "stroke": "#8c8c8c", "strokeWidth": 1.2},
                "layer": [
                  {"data": {"name": "scD"}, "mark": {"type": "point", "filled": false, "stroke": "#111", "strokeWidth": 1.2, "size": 22, "opacity": 1},
                   "encoding": {
                     "x": {"field": "pten", "type": "quantitative", "title": "Normalized PTEN mRNA level", "scale": {"domain": [0.135, 1.465], "nice": false, "zero": false}, "axis": {"values": [0.2, 0.4, 0.6, 0.8, 1.0, 1.2, 1.4], "format": ".1f", "labelFontSize": 10, "titleFontSize": 19, "tickSize": 4, "labelPadding": 5, "titlePadding": 10, "domain": false}},
                     "y": {"field": "mir", "type": "quantitative", "title": "Normalized miR-214 level", "scale": {"domain": [0.62, 7.32], "nice": false, "zero": false}, "axis": {"values": [1, 2, 3, 4, 5, 6, 7], "format": "d", "labelFontSize": 10, "titleFontSize": 19, "tickSize": 4, "labelPadding": 5, "titlePadding": 25, "domain": false}}
                   }},
                  {"data": {"name": "lnD"}, "mark": {"type": "line", "color": "#111", "strokeWidth": 1.8},
                   "encoding": {"x": {"field": "pten", "type": "quantitative", "title": "Normalized PTEN mRNA level", "scale": {"domain": [0.135, 1.465], "nice": false, "zero": false}}, "y": {"field": "mir", "type": "quantitative", "title": "Normalized miR-214 level", "scale": {"domain": [0.62, 7.32], "nice": false, "zero": false}}}},
                  {"data": {"name": "txD"}, "mark": {"type": "text", "align": "left", "baseline": "middle", "fontSize": 16, "fontWeight": "bold", "color": "#222"},
                   "encoding": {"x": {"field": "pten", "type": "quantitative", "title": "Normalized PTEN mRNA level", "scale": {"domain": [0.135, 1.465], "nice": false, "zero": false}}, "y": {"field": "mir", "type": "quantitative", "title": "Normalized miR-214 level", "scale": {"domain": [0.62, 7.32], "nice": false, "zero": false}}, "text": {"field": "label"}}}
                ]
              },
              {
                "title": {"text": "E", "offset": 9},
                "width": 385, "height": 298,
                "view": {"fill": "#f0f0f0", "stroke": "#8c8c8c", "strokeWidth": 1.2},
                "layer": [
                  {"data": {"name": "scE"}, "mark": {"type": "point", "filled": false, "stroke": "#111", "strokeWidth": 1.2, "size": 22, "opacity": 1},
                   "encoding": {
                     "x": {"field": "pten", "type": "quantitative", "title": "Normalized PTEN mRNA level", "scale": {"domain": [-0.17, 3.17], "nice": false, "zero": false}, "axis": {"values": [0, 0.5, 1.0, 1.5, 2.0, 2.5, 3.0], "format": ".1f", "labelFontSize": 7.5, "titleFontSize": 19, "tickSize": 4, "labelPadding": 6, "titlePadding": 12, "domain": false}},
                     "y": {"field": "mir", "type": "quantitative", "title": "Normalized miR-214 level", "scale": {"domain": [0.29, 2.3], "nice": false, "zero": false}, "axis": {"values": [0.5, 1.0, 1.5, 2.0], "format": ".1f", "labelFontSize": 7.5, "titleFontSize": 19, "tickSize": 4, "labelPadding": 5, "titlePadding": 17, "domain": false}}
                   }},
                  {"data": {"name": "lnE"}, "mark": {"type": "line", "color": "#111", "strokeWidth": 1.5},
                   "encoding": {"x": {"field": "pten", "type": "quantitative", "title": "Normalized PTEN mRNA level", "scale": {"domain": [-0.17, 3.17], "nice": false, "zero": false}}, "y": {"field": "mir", "type": "quantitative", "title": "Normalized miR-214 level", "scale": {"domain": [0.29, 2.3], "nice": false, "zero": false}}}},
                  {"data": {"name": "txE"}, "mark": {"type": "text", "align": "left", "baseline": "middle", "fontSize": 16, "fontWeight": "bold", "color": "#222"},
                   "encoding": {"x": {"field": "pten", "type": "quantitative", "title": "Normalized PTEN mRNA level", "scale": {"domain": [-0.17, 3.17], "nice": false, "zero": false}}, "y": {"field": "mir", "type": "quantitative", "title": "Normalized miR-214 level", "scale": {"domain": [0.29, 2.3], "nice": false, "zero": false}}, "text": {"field": "label"}}}
                ]
              }
            ],
            "spacing": 230,
            "bounds": "flush"
          }
        ],
        "spacing": 0
      },
      {
        "hconcat": [
          {"width": 311, "height": 5, "data": {"name": "empty"}, "mark": "point"},
          {
            "title": {"text": "F", "offset": 8},
            "width": 438, "height": 293,
            "layer": [
              {"data": {"name": "km"}, "transform": [{"filter": "datum.group == 'low level'"}], "mark": {"type": "line", "interpolate": "step-after", "color": "#e05a5a", "strokeWidth": 2},
               "encoding": {
                 "x": {"field": "time", "type": "quantitative", "title": "Time (years)", "scale": {"domain": [0, 4], "nice": false}, "axis": {"values": [0, 1, 2, 3, 4], "format": "d", "tickSize": 7, "tickWidth": 2.5, "domainWidth": 2.5, "domainColor": "#111", "tickColor": "#111", "labelColor": "#111", "labelFontSize": 20, "labelPadding": 3, "titleFontSize": 22, "titlePadding": 15}},
                 "y": {"field": "surv", "type": "quantitative", "title": "Percent Survival", "scale": {"domain": [0, 100]}, "axis": {"values": [0, 20, 40, 60, 80, 100], "format": "d", "tickSize": 7, "tickWidth": 2.5, "domainWidth": 2.5, "domainColor": "#111", "tickColor": "#111", "labelColor": "#111", "labelFontSize": 20, "labelPadding": 2, "titleFontSize": 22, "titlePadding": 13}}
               }},
              {"data": {"name": "km"}, "transform": [{"filter": "datum.group == 'high level'"}], "mark": {"type": "line", "interpolate": "step-after", "color": "#1e6b1e", "strokeWidth": 2},
               "encoding": {"x": {"field": "time", "type": "quantitative", "title": "Time (years)", "scale": {"domain": [0, 4], "nice": false}}, "y": {"field": "surv", "type": "quantitative", "title": "Percent Survival", "scale": {"domain": [0, 100]}}}},
              {"data": {"name": "cens"}, "mark": {"type": "tick", "orient": "vertical", "size": 9, "thickness": 1.8, "color": "#111"},
               "encoding": {"x": {"field": "time", "type": "quantitative", "title": "Time (years)", "scale": {"domain": [0, 4], "nice": false}}, "y": {"field": "surv", "type": "quantitative", "title": "Percent Survival", "scale": {"domain": [0, 100]}}}},
              {"data": {"name": "txF"}, "mark": {"type": "text", "align": "center", "baseline": "middle", "fontSize": 17, "fontWeight": "bold", "color": "#111"},
               "encoding": {"x": {"field": "time", "type": "quantitative", "title": "Time (years)", "scale": {"domain": [0, 4], "nice": false}}, "y": {"field": "surv", "type": "quantitative", "title": "Percent Survival", "scale": {"domain": [0, 100]}}, "text": {"field": "label"}}}
            ]
          }
        ],
        "spacing": 0
      }
    ]
  }
]
}
